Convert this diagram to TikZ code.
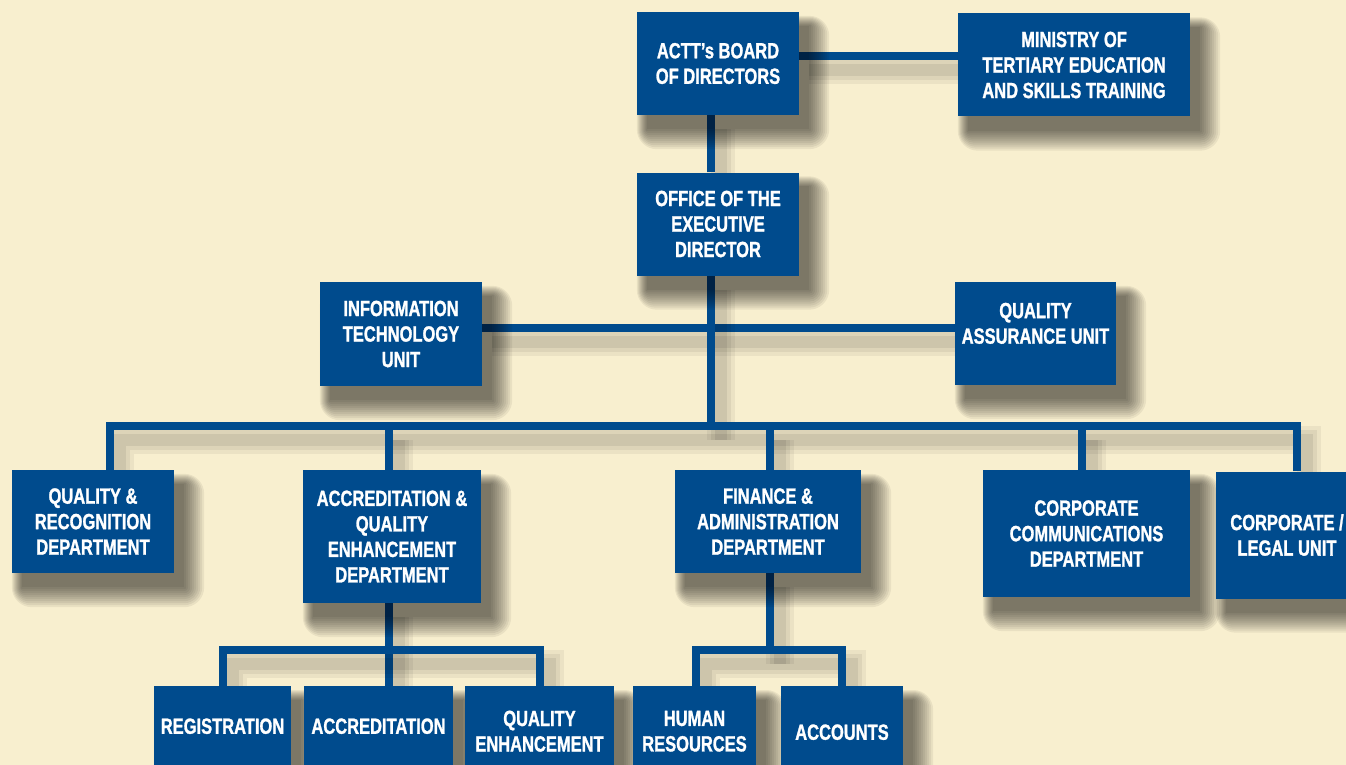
\documentclass[tikz,border=0pt]{standalone}
\usepackage{fontspec}
\setmainfont{Liberation Sans}[FakeStretch=0.75, BoldFeatures={FakeBold=1.2}]

\definecolor{actblue}{RGB}{0,75,141}
\definecolor{cream}{RGB}{248,239,207}

\pgfdeclarelayer{paperlayer}
\pgfdeclarelayer{wirelayer}
\pgfdeclarelayer{shadelayer}
\pgfsetlayers{paperlayer,wirelayer,shadelayer,main}

\tikzset{
  unitbox/.style={fill=actblue, text=white, align=center, inner sep=0pt,
    font=\fontsize{22}{25.5}\selectfont\bfseries},
  shadestep/.style={fill=black, opacity=0.06},
  wire/.style={draw=actblue, line width=8pt, line join=miter,
    preaction={draw=black, opacity=0.05, line width=28pt,
      transform canvas={shift={(10pt,-14pt)}}},
    preaction={draw=black, opacity=0.06, line width=20pt,
      transform canvas={shift={(10pt,-14pt)}}},
    preaction={draw=black, opacity=0.07, line width=12pt,
      transform canvas={shift={(10pt,-14pt)}}}}
}

\begin{document}
\begin{tikzpicture}[x=1pt, y=-1pt]

  \useasboundingbox (0,0) rectangle (1346,765);
  \begin{pgfonlayer}{paperlayer}
    \fill[cream] (0,0) rectangle (1346,765);
  \end{pgfonlayer}

  % top of the chart
  \node[unitbox, minimum width=162pt, minimum height=103pt] (board) at (718,63.5) {ACTT’s BOARD\\OF DIRECTORS};
  \node[unitbox, minimum width=232pt, minimum height=103pt] (ministry) at (1074,65) {MINISTRY OF\\TERTIARY EDUCATION\\AND SKILLS TRAINING};
  \node[unitbox, minimum width=162pt, minimum height=103pt] (exec) at (718,224) {OFFICE OF THE\\EXECUTIVE\\DIRECTOR};

  % units beside the executive director
  \node[unitbox, minimum width=162pt, minimum height=104pt] (itu) at (401,334) {INFORMATION\\TECHNOLOGY\\UNIT};
  \node[unitbox, minimum width=161pt, minimum height=103pt] (qau) at (1035.5,333.5) {QUALITY\\ASSURANCE UNIT\\[-5pt]\mbox{}};

  % departments
  \node[unitbox, minimum width=162pt, minimum height=103pt] (qrd) at (93,521.5) {QUALITY \&\\RECOGNITION\\DEPARTMENT};
  \node[unitbox, minimum width=178pt, minimum height=133pt] (aqe) at (392,536.5) {ACCREDITATION \&\\QUALITY\\ENHANCEMENT\\DEPARTMENT};
  \node[unitbox, minimum width=186pt, minimum height=103pt] (fad) at (768,521.5) {FINANCE \&\\ADMINISTRATION\\DEPARTMENT};
  \node[unitbox, minimum width=207pt, minimum height=127pt] (ccd) at (1086.5,533.5) {CORPORATE\\COMMUNICATIONS\\DEPARTMENT};
  \node[unitbox, minimum width=142pt, minimum height=127pt] (clu) at (1287,535) {CORPORATE /\\LEGAL UNIT};

  % sections
  \node[unitbox, anchor=north, minimum width=137pt, minimum height=80pt] (reg) at (222.5,686) {REGISTRATION};
  \node[unitbox, anchor=north, minimum width=149pt, minimum height=80pt] (acc) at (378.5,686) {ACCREDITATION};
  \node[unitbox, anchor=north, minimum width=149pt, minimum height=90pt] (qen) at (539.5,686) {QUALITY\\ENHANCEMENT};
  \node[unitbox, anchor=north, minimum width=123pt, minimum height=90pt] (hrs) at (694.5,686) {HUMAN\\RESOURCES};
  \node[unitbox, anchor=north, minimum width=122pt, minimum height=92pt] (acn) at (842,686) {ACCOUNTS};

  \coordinate (hub) at (711,425.5);
  \coordinate (subA) at (389,650);
  \coordinate (subF) at (770,650);

  % soft drop shadows of the boxes
  \begin{pgfonlayer}{shadelayer}
    \foreach \n in {board,ministry,exec,itu,qau,qrd,aqe,fad,ccd,clu,reg,acc,qen,hrs,acn}
      \foreach \r in {0,2,...,20}
        \fill[shadestep, rounded corners=\r pt]
          ([xshift=10pt-0.5*\r pt, yshift=-14pt+0.5*\r pt]\n.north west) rectangle
          ([xshift=10pt+\r pt, yshift=-14pt-\r pt]\n.south east);
  \end{pgfonlayer}

  \begin{pgfonlayer}{wirelayer}
    \draw[wire] ([yshift=7.5pt]board.east) -- ([yshift=7.5pt]board.east -| ministry.west);
    \draw[wire] ([xshift=-7pt]board.south) -- ([xshift=-7pt]exec.north);
    \draw[wire] ([yshift=6.5pt]itu.east) -- ([yshift=6.5pt]itu.east -| qau.west);
    \draw[wire] ([xshift=-7pt]exec.south) -- (hub);
    \draw[wire] ([xshift=17pt]qrd.north) |- (hub) -| ([xshift=10pt]clu.north);
    \foreach \dept/\dx in {aqe/-3, fad/1.5, ccd/-4.5}
      \draw[wire] ([xshift=\dx pt]\dept.north) -- ([xshift=\dx pt]\dept.north |- hub);

    \draw[wire] ([xshift=-3pt]aqe.south) -- ([xshift=-3pt]aqe.south |- acc.north);
    \draw[wire] (reg.north) |- (subA) -| (qen.north);
    \draw[wire] ([xshift=2pt]fad.south) -- (subF);
    \draw[wire] ([xshift=1.5pt]hrs.north) |- (subF) -| (acn.north);
  \end{pgfonlayer}

\end{tikzpicture}
\end{document}
